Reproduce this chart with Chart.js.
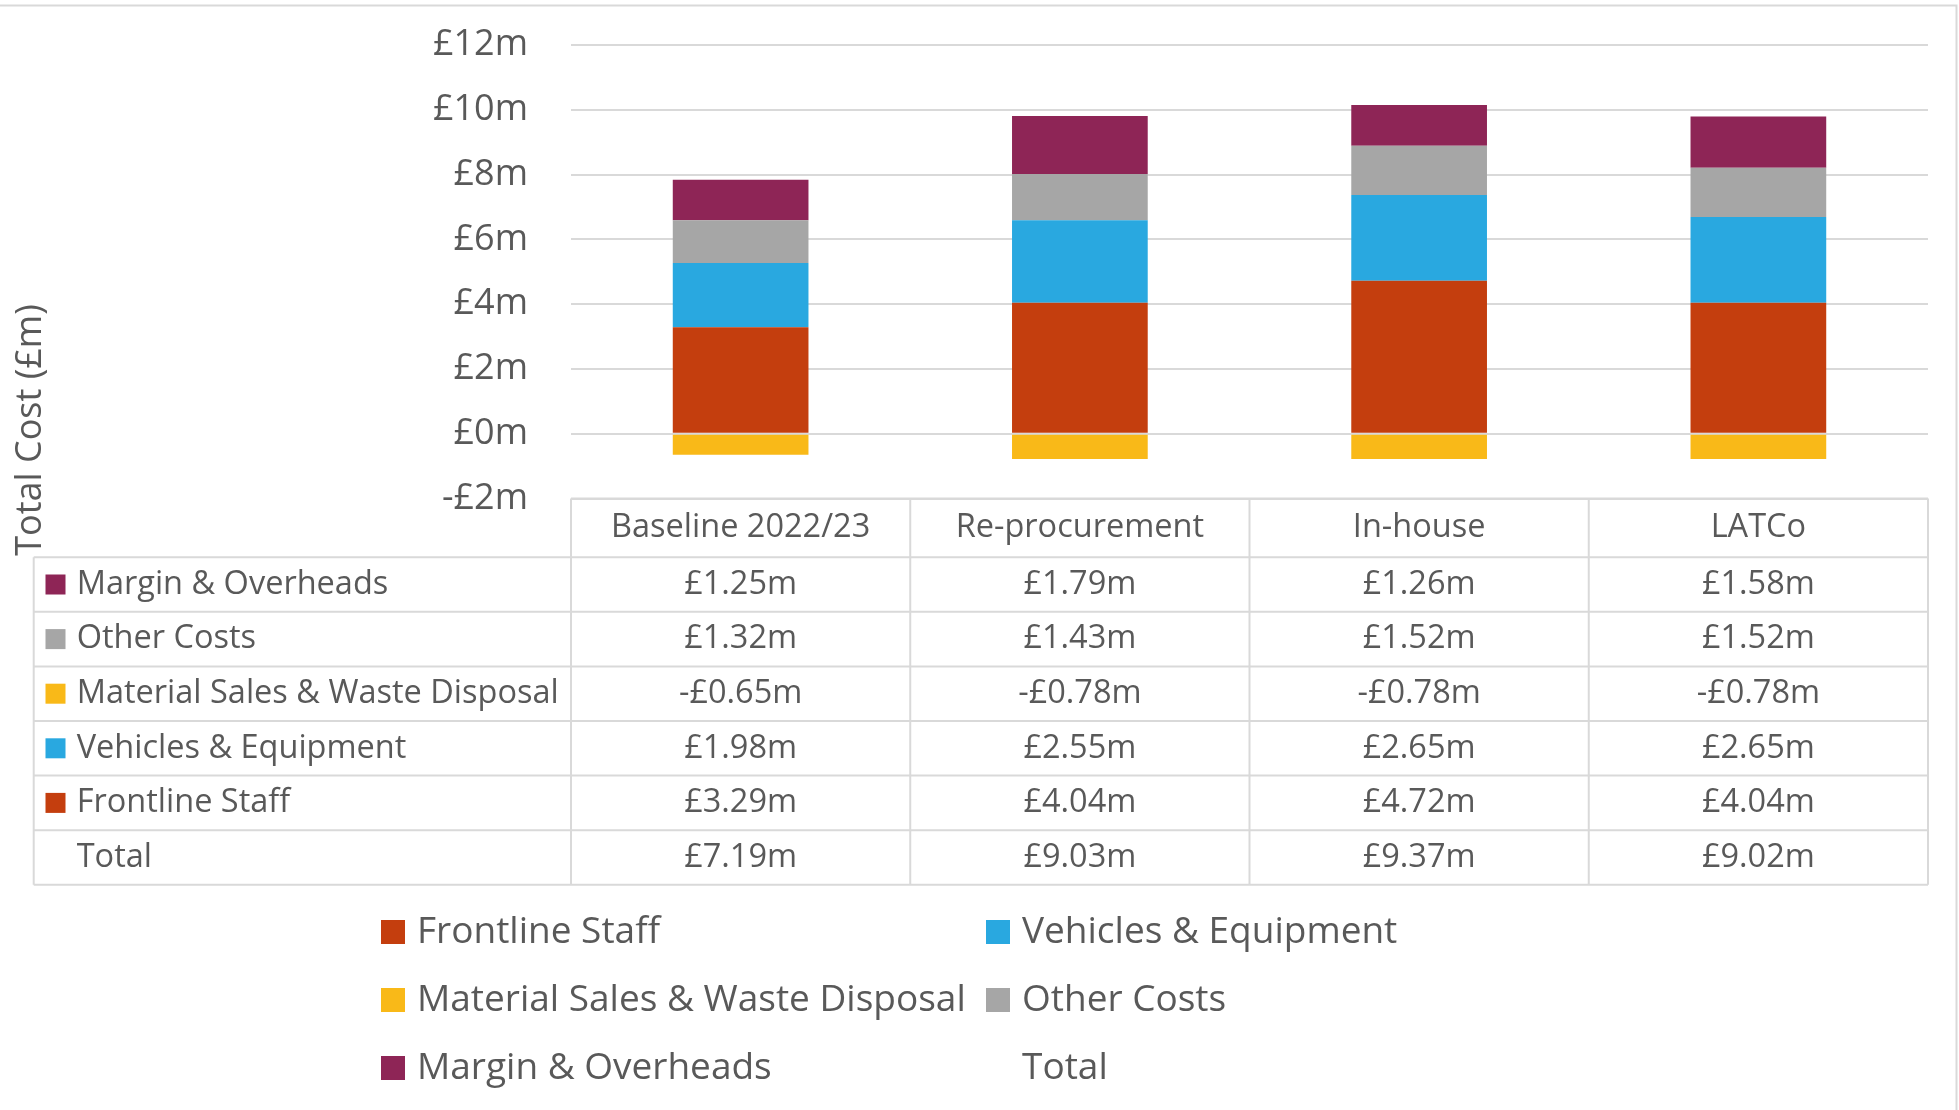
<!DOCTYPE html>
<html>
<head>
<meta charset="utf-8">
<script src="https://cdn.jsdelivr.net/npm/chart.js@4.4.1/dist/chart.umd.min.js"></script>
<style>
html,body{margin:0;padding:0;background:#ffffff;overflow:hidden}
canvas{display:block}
</style>
</head>
<body>
<canvas id="c" width="1959" height="1110"></canvas>
<script>
// ---- Data ----
const categories = ['Baseline 2022/23', 'Re-procurement', 'In-house', 'LATCo'];
const seriesNames = ['Frontline Staff', 'Vehicles & Equipment', 'Material Sales & Waste Disposal', 'Other Costs', 'Margin & Overheads', 'Total'];
const frontlineStaff = [3.29, 4.04, 4.72, 4.04];
const vehiclesEquipment = [1.98, 2.55, 2.65, 2.65];
const materialSales = [-0.65, -0.78, -0.78, -0.78];
const otherCosts = [1.32, 1.43, 1.52, 1.52];
const marginOverheads = [1.25, 1.79, 1.26, 1.58];
const totals = [7.19, 9.03, 9.37, 9.02];
const yTicks = [-2, 0, 2, 4, 6, 8, 10, 12];
const tableRowOrder = [4, 3, 2, 1, 0, 5];

// ---- Styles ----
const seriesColors = ['#C43E0E', '#29A8E0', '#F9B918', '#A6A6A6', '#8E2556', 'rgba(0,0,0,0)'];
const TXT = '#595959';
const LINE = '#D9D9D9';
const FAMILY = "'Open Sans'";

function money(v) {
  const s = '£' + Math.abs(v).toFixed(2) + 'm';
  return v < 0 ? '-' + s : s;
}
function tickMoney(v) {
  return (v < 0 ? '-' : '') + '£' + Math.abs(v) + 'm';
}

const borderPlugin = {
  id: 'chartBorder',
  beforeDraw(chart) {
    const ctx = chart.ctx;
    ctx.save();
    ctx.strokeStyle = LINE;
    ctx.lineWidth = 2;
    ctx.beginPath();
    ctx.moveTo(0, 5.5);
    ctx.lineTo(1956.5, 5.5);
    ctx.lineTo(1956.5, 1110);
    ctx.stroke();
    ctx.restore();
  }
};

const axisTitlePlugin = {
  id: 'axisTitle',
  afterDraw(chart) {
    const ctx = chart.ctx;
    ctx.save();
    ctx.translate(31, 430);
    ctx.rotate(-Math.PI / 2);
    ctx.fillStyle = TXT;
    ctx.font = '36px ' + FAMILY;
    ctx.textAlign = 'center';
    ctx.textBaseline = 'middle';
    ctx.fillText('Total Cost (£m)', 0, 0);
    ctx.restore();
  }
};

const tablePlugin = {
  id: 'dataTable',
  afterDraw(chart) {
    const ctx = chart.ctx;
    const xs = chart.scales.x;
    const area = chart.chartArea;
    const n = categories.length;
    const colW = (area.right - area.left) / n;
    const top = area.bottom;
    const headerH = 58.7, rowH = 54.6;
    const tableLeft = 33.7;
    const bottom = top + headerH + rowH * tableRowOrder.length;
    ctx.save();
    ctx.strokeStyle = LINE;
    ctx.lineWidth = 2;
    ctx.beginPath();
    ctx.moveTo(area.left, top);
    ctx.lineTo(area.right, top);
    for (let r = 0; r <= tableRowOrder.length; r++) {
      const y = top + headerH + rowH * r;
      ctx.moveTo(tableLeft, y);
      ctx.lineTo(area.right, y);
    }
    ctx.moveTo(tableLeft, top + headerH);
    ctx.lineTo(tableLeft, bottom);
    for (let i = 0; i < n; i++) {
      const cx = xs.getPixelForValue(i);
      ctx.moveTo(cx - colW / 2, top);
      ctx.lineTo(cx - colW / 2, bottom);
      if (i === n - 1) {
        ctx.moveTo(cx + colW / 2, top);
        ctx.lineTo(cx + colW / 2, bottom);
      }
    }
    ctx.stroke();

    ctx.fillStyle = TXT;
    ctx.font = '32.5px ' + FAMILY;
    ctx.textBaseline = 'middle';
    ctx.textAlign = 'center';
    categories.forEach((c, i) => {
      ctx.fillText(c, xs.getPixelForValue(i), top + headerH / 2);
    });
    const ds = chart.data.datasets;
    tableRowOrder.forEach((di, r) => {
      const yc = top + headerH + rowH * r + rowH / 2;
      const d = ds[di];
      if (di !== 5) {
        ctx.fillStyle = d.backgroundColor;
        ctx.fillRect(45.5, yc - 10, 20, 20);
      }
      ctx.fillStyle = TXT;
      ctx.textAlign = 'left';
      ctx.fillText(d.label, 76.7, yc);
      ctx.textAlign = 'center';
      d.data.forEach((v, i) => {
        ctx.fillText(money(v), xs.getPixelForValue(i), yc);
      });
    });
    ctx.restore();
  }
};

const legendPlugin = {
  id: 'gridLegend',
  afterDraw(chart) {
    const ctx = chart.ctx;
    const colX = [381, 986];
    const rowY = [932, 1000, 1068];
    ctx.save();
    ctx.font = '37px ' + FAMILY;
    ctx.textBaseline = 'middle';
    ctx.textAlign = 'left';
    chart.data.datasets.forEach((d, i) => {
      const x = colX[i % 2];
      const y = rowY[Math.floor(i / 2)];
      if (i !== 5) {
        ctx.fillStyle = d.backgroundColor;
        ctx.fillRect(x, y - 12, 24, 24);
      }
      ctx.fillStyle = TXT;
      ctx.fillText(d.label, x + 36, y);
    });
    ctx.restore();
  }
};

function build() {
  const values = [frontlineStaff, vehiclesEquipment, materialSales, otherCosts, marginOverheads];
  const datasets = values.map((arr, i) => ({
    type: 'bar',
    label: seriesNames[i],
    data: arr,
    backgroundColor: seriesColors[i],
    borderWidth: 0,
    stack: 'costs',
    barPercentage: 0.4,
    categoryPercentage: 1.0
  }));
  datasets.push({
    type: 'line',
    label: seriesNames[5],
    data: totals,
    borderColor: seriesColors[5],
    backgroundColor: seriesColors[5],
    pointRadius: 0,
    showLine: false,
    stack: 'total'
  });

  new Chart(document.getElementById('c'), {
    type: 'bar',
    data: { labels: categories, datasets },
    options: {
      responsive: false,
      animation: false,
      devicePixelRatio: 1,
      layout: { padding: { top: 45, right: 31, bottom: 611.5, left: 0 } },
      plugins: {
        legend: { display: false },
        tooltip: { enabled: false },
        title: { display: false }
      },
      scales: {
        x: { display: false, stacked: true, offset: true },
        y: {
          stacked: true,
          min: -2,
          max: 12,
          afterFit(s) { s.width = 571; },
          afterBuildTicks(s) { s.ticks = yTicks.map(v => ({ value: v })); },
          ticks: {
            padding: 0,
            color: TXT,
            font: { family: 'Open Sans', size: 36 },
            callback: v => tickMoney(v)
          },
          grid: { color: LINE, lineWidth: 2, drawTicks: true, tickLength: 43, tickColor: 'rgba(0,0,0,0)' },
          border: { display: false }
        }
      }
    },
    plugins: [borderPlugin, tablePlugin, legendPlugin, axisTitlePlugin]
  });
}

if (document.fonts && document.fonts.load) {
  Promise.all([
    document.fonts.load("36px 'Open Sans'"),
    document.fonts.load("32.5px 'Open Sans'")
  ]).then(build, build);
} else {
  build();
}
</script>
</body>
</html>
